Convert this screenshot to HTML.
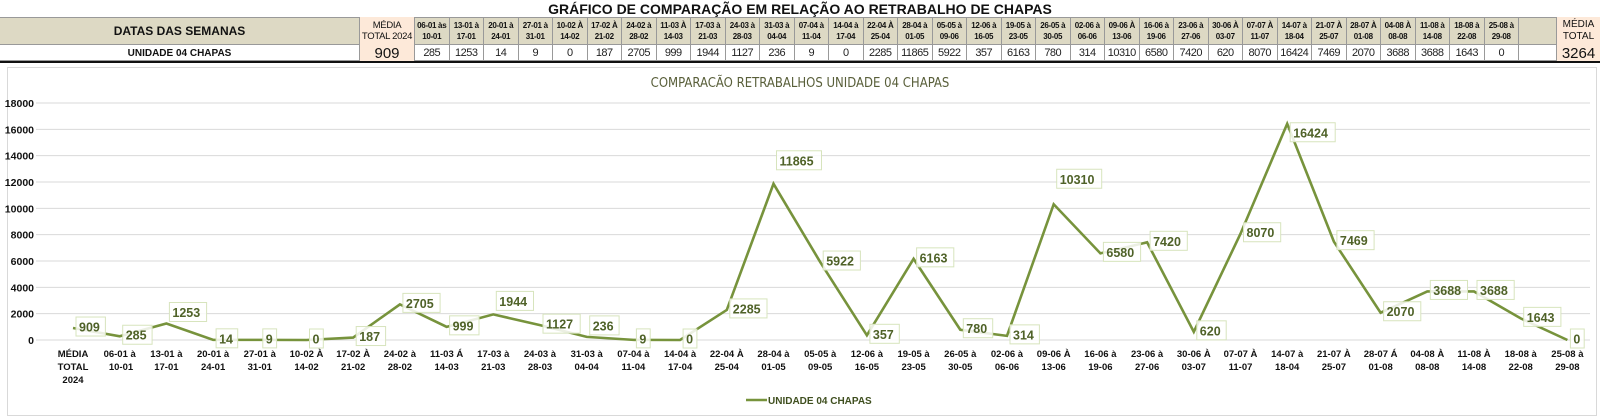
<!DOCTYPE html>
<html><head><meta charset="utf-8"><style>
body{margin:0;width:1600px;height:418px;background:#fff;position:relative;overflow:hidden;font-family:"Liberation Sans",sans-serif}
.c{position:absolute;box-sizing:border-box;display:flex;align-items:center;justify-content:center;text-align:center;font-weight:bold;color:#111}
.h{background:#ddd9c4;border-right:1px solid #999;font-size:8px;line-height:11px;letter-spacing:-0.3px}
.d{border-right:1px solid #999;font-size:11px;font-weight:normal;letter-spacing:-0.5px;color:#222}
</style></head><body>
<div class="c" style="left:0;top:0;width:1600px;height:17px;font-size:14px;background:#fff">GRÁFICO DE COMPARAÇÃO EM RELAÇÃO AO RETRABALHO DE CHAPAS</div>
<div style="position:absolute;left:0;top:17px;width:1600px;height:28px;background:#ddd9c4;border-top:1px solid #999;border-bottom:1px solid #999;box-sizing:border-box"></div>
<div style="position:absolute;left:0;top:45px;width:1600px;height:16px;background:#fff;border-bottom:1px solid #999;box-sizing:border-box"></div>
<div class="c" style="left:0;top:17px;width:360px;height:28px;font-size:12px;border-right:1px solid #999">DATAS DAS SEMANAS</div>
<div class="c" style="left:0;top:45px;width:360px;height:16px;font-size:10px;border-right:1px solid #999">UNIDADE 04 CHAPAS</div>
<div class="c" style="left:360px;top:17px;width:55px;height:28px;font-size:9.5px;line-height:11px;background:#fde9d9;border-right:1px solid #999;font-weight:normal;letter-spacing:-0.3px">MÉDIA<br>TOTAL 2024</div>
<div class="c" style="left:360px;top:45px;width:55px;height:16px;font-size:15px;background:#fde9d9;border-right:1px solid #999;font-weight:normal">909</div>
<div class="c" style="left:1557px;top:17px;width:43px;height:28px;font-size:10px;line-height:12px;background:#fde9d9;font-weight:normal">MÉDIA<br>TOTAL</div>
<div class="c" style="left:1557px;top:45px;width:43px;height:16px;font-size:15px;background:#fde9d9;font-weight:normal">3264</div>
<div style="position:absolute;left:0;top:61px;width:1600px;height:2px;background:#111"></div>
<div id="tbl"></div>
<div style="position:absolute;left:7px;top:67px;width:1590px;height:349px;border:1px solid #d9d9d9;box-sizing:border-box"></div>
<svg id="chart" width="1600" height="418" style="position:absolute;left:0;top:0"></svg>
<script>
const hdr1=["06-01 às","13-01 à","20-01 à","27-01 à","10-02 À","17-02 À","24-02 à","11-03 À","17-03 à","24-03 à","31-03 à","07-04 à","14-04 à","22-04 À","28-04 à","05-05 à","12-06 à","19-05 à","26-05 à","02-06 à","09-06 À","16-06 à","23-06 à","30-06 À","07-07 À","14-07 à","21-07 À","28-07 À","04-08 À","11-08 à","18-08 à","25-08 à"];
const hdr2=["10-01","17-01","24-01","31-01","14-02","21-02","28-02","14-03","21-03","28-03","04-04","11-04","17-04","25-04","01-05","09-06","16-05","23-05","30-05","06-06","13-06","19-06","27-06","03-07","11-07","18-04","25-07","01-08","08-08","14-08","22-08","29-08"];
const categories=["MÉDIA TOTAL 2024","06-01 às 10-01","13-01 à 17-01","20-01 à 24-01","27-01 à 31-01","10-02 À 14-02","17-02 À 21-02","24-02 à 28-02","11-03 Á 14-03","17-03 à 21-03","24-03 à 28-03","31-03 à 04-04","07-04 à 11-04","14-04 à 17-04","22-04 À 25-04","28-04 à 01-05","05-05 à 09-05","12-06 à 16-05","19-05 à 23-05","26-05 à 30-05","02-06 à 06-06","09-06 À 13-06","16-06 à 19-06","23-06 à 27-06","30-06 À 03-07","07-07 À 11-07","14-07 à 18-04","21-07 À 25-07","28-07 Á 01-08","04-08 À 08-08","11-08 À 14-08","18-08 à 22-08","25-08 à 29-08"];
const values=[909,285,1253,14,9,0,187,2705,999,1944,1127,236,9,0,2285,11865,5922,357,6163,780,314,10310,6580,7420,620,8070,16424,7469,2070,3688,3688,1643,0];
const yTicks=[0,2000,4000,6000,8000,10000,12000,14000,16000,18000];

const tbl=document.getElementById('tbl');
for(let i=0;i<hdr1.length;i++){
  const x=415+i*34.5;
  const h=document.createElement('div');h.className='c h';
  
  
  h.style.cssText=`left:${x}px;top:18px;width:34.5px;height:26px`;
  h.innerHTML=hdr1[i]+'<br>'+hdr2[i];tbl.appendChild(h);
  const d=document.createElement('div');d.className='c d';
  
  
  d.style.cssText=`left:${x}px;top:45px;width:34.5px;height:15px`;
  d.textContent=values[i+1];tbl.appendChild(d);
}
const bl=document.createElement('div');bl.className='c d';


bl.style.cssText='left:1519px;top:18px;width:38px;height:42px';tbl.appendChild(bl);

const NS='http://www.w3.org/2000/svg',svg=document.getElementById('chart');
const X0=73,DX=46.7,Y0=340,YTOP=103,YMAX=18000;
const xs=i=>X0+i*DX, ys=v=>Y0-(v/YMAX)*(Y0-YTOP);
function el(t,a,txt){const e=document.createElementNS(NS,t);for(const k in a)e.setAttribute(k,a[k]);if(txt!=null)e.textContent=txt;svg.appendChild(e);return e;}
let e=el('text',{x:800,y:87,'text-anchor':'middle','font-size':'13','fill':'#595f3a','font-family':'DejaVu Sans Condensed, Liberation Sans, sans-serif'},'COMPARACÃO RETRABALHOS UNIDADE 04 CHAPAS');


yTicks.forEach(t=>{
  const g=el('line',{x1:36,x2:1590,y1:ys(t),y2:ys(t),stroke:'#d9d9d9','stroke-width':1});
  
  
  const l=el('text',{x:34,y:ys(t)+4,'text-anchor':'end','font-size':'10.5','font-weight':'bold',fill:'#111'},t);
  
  
});
categories.forEach((c,i)=>{
  const parts=i===0?['MÉDIA','TOTAL','2024']:[c.slice(0,7),c.slice(8)];
  const t=el('text',{x:xs(i),'text-anchor':'middle','font-size':'9.5','font-weight':'bold',fill:'#111'});
  
  
  parts.forEach((p,k)=>{const s=document.createElementNS(NS,'tspan');s.setAttribute('x',xs(i));s.setAttribute('y',357+k*13);s.textContent=p;t.appendChild(s);});
});
const pl=el('polyline',{points:values.map((v,i)=>xs(i)+','+ys(v)).join(' '),fill:'none',stroke:'#77933c','stroke-width':2.6,'stroke-linejoin':'miter'});


const raised={2:-10,9:-12,11:-10,15:-22,21:-24};
values.forEach((v,i)=>{
  const dy=(raised[i]||0)+(i===26?10:0);
  const x=xs(i)+3,y=ys(v)-2+dy,w=String(v).length*7.8+6;
  const r=el('rect',{x:x,y:y-9,width:w,height:19,fill:'#fff','fill-opacity':0.85,stroke:'#d7e4bd','stroke-width':1});
  
  
  const t=el('text',{x:x+3,y:y+5.5,'font-size':'12.5','font-weight':'bold',fill:'#4f6228'},v);
  
  
});
const lg=el('line',{x1:746,x2:767,y1:400,y2:400,stroke:'#77933c','stroke-width':2.6});


const lt=el('text',{x:768,y:404,'font-size':'10','font-weight':'bold',fill:'#3f4f1f'},'UNIDADE 04 CHAPAS');


</script>
</body></html>
